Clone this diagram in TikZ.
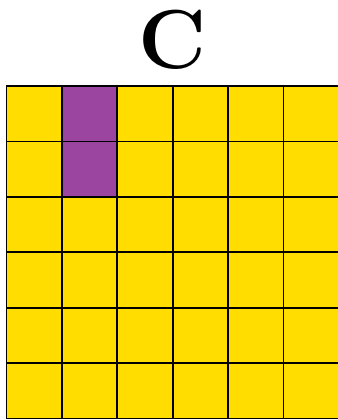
\documentclass[tikz,border=0pt]{standalone}
\usepackage{tikz}
\usetikzlibrary{positioning}
\definecolor{cellyellow}{HTML}{FFDD00}
\definecolor{markpurple}{HTML}{9B45A0}

\begin{document}
\begin{tikzpicture}[
    % ── Cell styles ──────────────────────────────────────────────────────
    cell/.style={
        draw=black, fill=cellyellow, line width=1pt,
        minimum size=1cm, inner sep=0pt, outer sep=0pt
    },
    markcell/.style={
        cell, fill=markpurple
    },
    % ── Title style ──────────────────────────────────────────────────────
    gridtitle/.style={
        font=\fontsize{43}{50}\selectfont\bfseries,
        inner sep=0pt
    }
]

% ═══════════════════════════════════════════════════════════════════════════
% Frame
% ═══════════════════════════════════════════════════════════════════════════
\useasboundingbox (-0.117,-0.027) rectangle (5.966,7.554);

% ═══════════════════════════════════════════════════════════════════════════
% Grid
% ═══════════════════════════════════════════════════════════════════════════
\foreach \r in {1,...,6}{
    \foreach \c in {1,...,6}{
        \node[cell] (c-\r-\c) at (\c-0.5, 6.5-\r) {};
    }
}

% Marked cells
\node[markcell] (m-1) at (c-1-2) {};
\node[markcell] (m-2) at (c-2-2) {};

% ═══════════════════════════════════════════════════════════════════════════
% Title
% ═══════════════════════════════════════════════════════════════════════════
\node[gridtitle] (title) at (3,6.83) {C};

\end{tikzpicture}
\end{document}
